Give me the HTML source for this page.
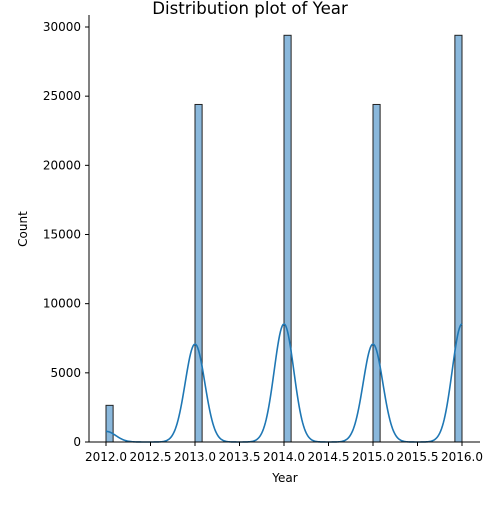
<!DOCTYPE html>
<html><head><meta charset="utf-8"><style>
body{margin:0;background:#fff;}
svg{font-family:"DejaVu Sans","Liberation Sans",sans-serif;}
</style></head><body>
<svg width="500" height="500" id="chart"></svg>
<script>
const years=[2012,2013,2014,2015,2016];
const binStarts=[2012.0,2013.0,2014.0,2015.0,2015.92];
const counts=[2650,24400,29400,24400,29400];
const yTicks=[0,5000,10000,15000,20000,25000,30000];
const xTicks=[2012.0,2012.5,2013.0,2013.5,2014.0,2014.5,2015.0,2015.5,2016.0];
const binW=0.08, bw=0.11;
const X=v=>106+(v-2012)*89;
const Y=v=>442-v*(415/30000);
const ns="http://www.w3.org/2000/svg";
const svg=document.getElementById('chart');
function mk(t,a,p){const e=document.createElementNS(ns,t);for(const k in a)e.setAttribute(k,a[k]);(p||svg).appendChild(e);return e;}
binStarts.forEach((b,i)=>{
 const r=mk('rect',{x:X(b),y:Y(counts[i]),width:X(b+binW)-X(b),height:442-Y(counts[i]),fill:'#8ab8dc',stroke:'#222','stroke-width':1});
 
 
});
let d='';
for(let t=2012;t<=2016.0001;t+=0.01){
 let s=0;years.forEach((y,i)=>{s+=counts[i]*binW/(Math.sqrt(2*Math.PI)*bw)*Math.exp(-0.5*((t-y)/bw)**2);});
 d+=(d?'L':'M')+X(t).toFixed(2)+','+Y(s).toFixed(2);
}
const kde=mk('path',{d:d,fill:'none',stroke:'#1f77b4','stroke-width':1.6});


mk('line',{x1:89,y1:15,x2:89,y2:442,stroke:'#000','stroke-width':1});
mk('line',{x1:89,y1:442,x2:480,y2:442,stroke:'#000','stroke-width':1});
yTicks.forEach(v=>{
 mk('line',{x1:85,y1:Y(v),x2:89,y2:Y(v),stroke:'#000'});
 const t=mk('text',{x:81,y:Y(v)+4,'text-anchor':'end','font-size':12});t.textContent=v;
 
 
});
xTicks.forEach(v=>{
 mk('line',{x1:X(v),y1:442,x2:X(v),y2:446,stroke:'#000'});
 const t=mk('text',{x:X(v),y:461,'text-anchor':'middle','font-size':12});t.textContent=v.toFixed(1);
 
 
});
const xt=mk('text',{x:285,y:482,'text-anchor':'middle','font-size':12});xt.textContent='Year';


const yt=mk('text',{x:27,y:229,'text-anchor':'middle','font-size':12,transform:'rotate(-90 27 229)'});yt.textContent='Count';


const tt=mk('text',{x:250,y:14,'text-anchor':'middle','font-size':16.6});tt.textContent='Distribution plot of Year';


</script>
</body></html>
